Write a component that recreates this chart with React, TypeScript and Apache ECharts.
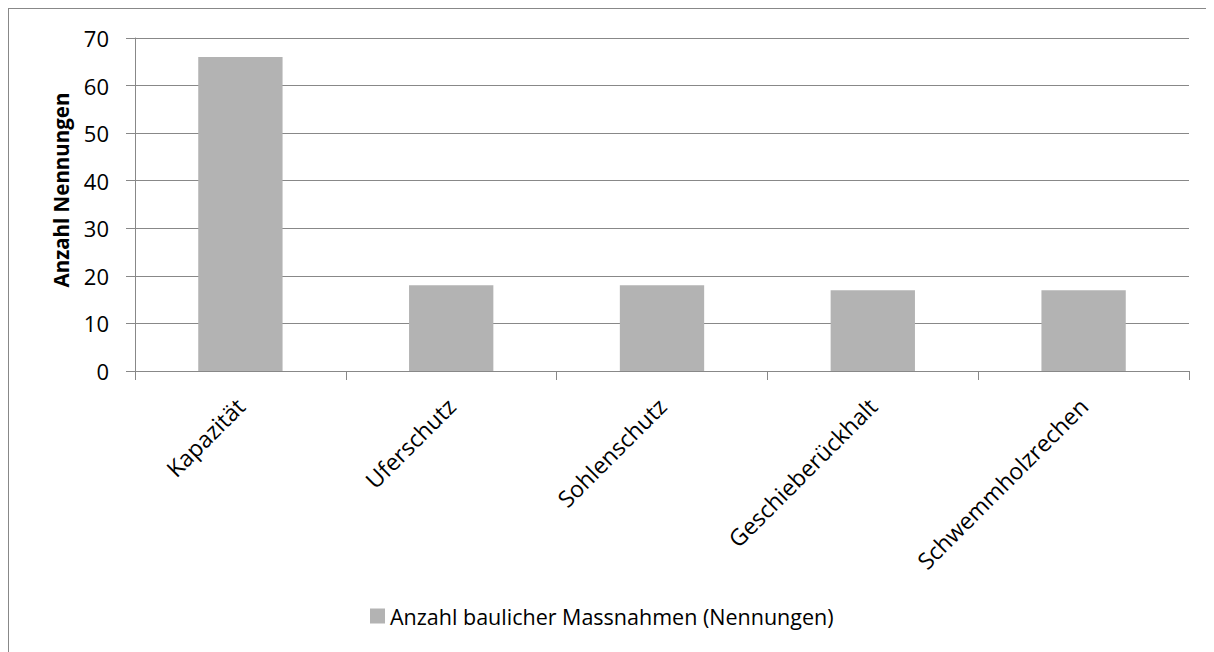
import React, { useEffect, useRef } from "react";
import * as echarts from "echarts";

const categories = ["Kapazität", "Uferschutz", "Sohlenschutz", "Geschieberückhalt", "Schwemmholzrechen"];
const values = [66, 18, 18, 17, 17];
const seriesName = "Anzahl baulicher Massnahmen (Nennungen)";
const yAxisName = "Anzahl Nennungen";

const FONT = "Open Sans";

export default function App() {
  const ref = useRef<HTMLDivElement>(null);
  useEffect(() => {
    if (!ref.current) return;
    const chart = echarts.init(ref.current, undefined, { renderer: "svg" });
    chart.setOption({
      animation: false,
      textStyle: { fontFamily: FONT },
      grid: { left: 126, top: 29, right: 25, bottom: 281, containLabel: false },
      legend: {
        left: 356,
        top: 591,
        icon: "rect",
        itemWidth: 15,
        itemHeight: 15,
        itemGap: 6,
        textStyle: { fontSize: 21.5, color: "#000", fontFamily: FONT },
        data: [seriesName],
      },
      graphic: [
        {
          type: "text",
          x: 52,
          y: 181,
          rotation: Math.PI / 2,
          style: {
            text: yAxisName,
            fontSize: 20.5,
            fontWeight: "bold",
            fill: "#000",
            fontFamily: FONT,
            textAlign: "center",
            textVerticalAlign: "middle",
          },
        },
      ],
      xAxis: {
        type: "category",
        data: categories,
        boundaryGap: true,
        axisLine: { show: true, lineStyle: { color: "#888", width: 1 } },
        axisTick: { show: true, length: 9, lineStyle: { color: "#888" } },
        axisLabel: { rotate: 45, fontSize: 23, color: "#000", margin: 31, fontFamily: FONT, interval: 0 },
      },
      yAxis: {
        type: "value",
        min: 0,
        max: 70,
        interval: 10,
        axisLine: { show: true, lineStyle: { color: "#888", width: 1 } },
        axisTick: { show: true, length: 9, lineStyle: { color: "#888" } },
        axisLabel: { fontSize: 22, color: "#000", margin: 26, fontFamily: FONT },
        splitLine: { show: true, lineStyle: { color: "#888", width: 1 } },
      },
      series: [
        {
          type: "bar",
          name: seriesName,
          data: values,
          barWidth: "40%",
          itemStyle: { color: "#b3b3b3" },
        },
      ],
    });
    return () => chart.dispose();
  }, []);
  return (
    <div style={{ width: 1206, height: 644, borderTop: "1px solid #888", borderLeft: "1px solid #888", boxSizing: "border-box" }}>
      <div ref={ref} style={{ width: 1205, height: 643 }} />
    </div>
  );
}
